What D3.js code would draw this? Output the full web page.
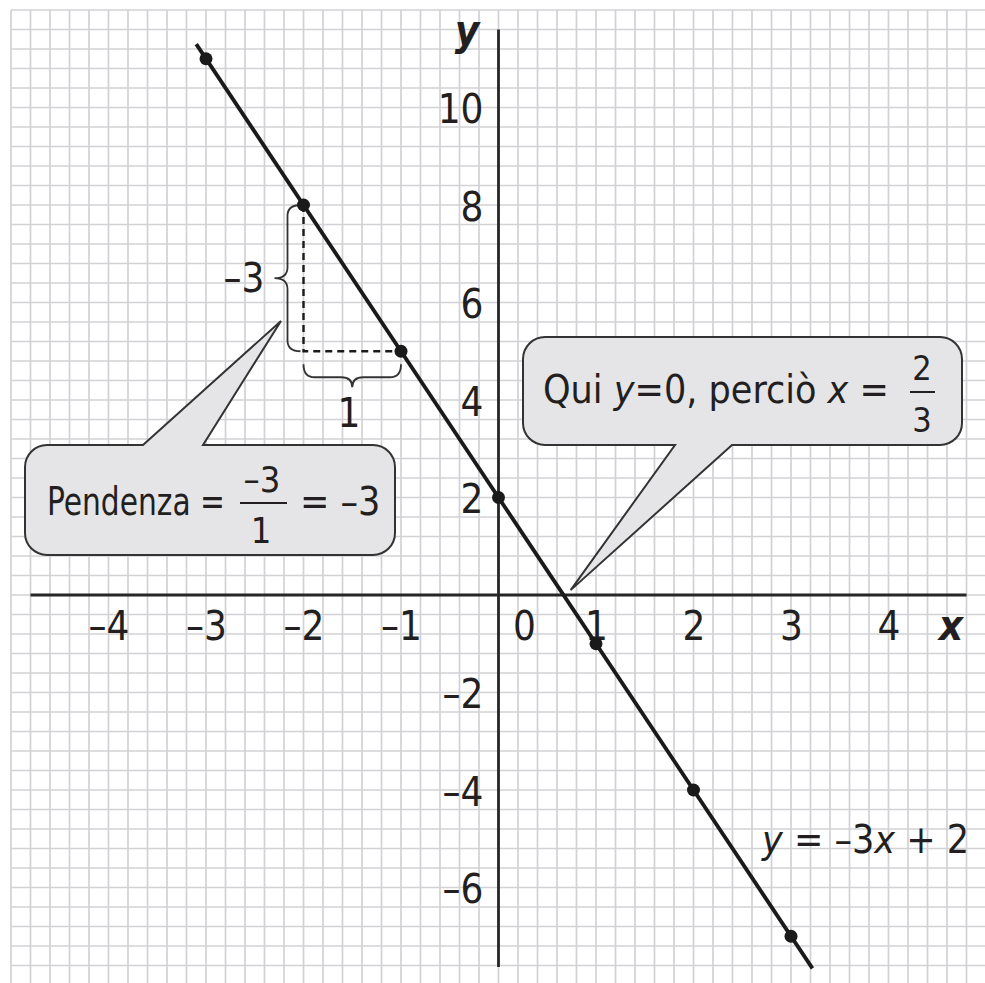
<!DOCTYPE html>
<html>
<head>
<meta charset="utf-8">
<script src="https://cdn.jsdelivr.net/npm/d3@7"></script>
<style>
  html, body { margin: 0; padding: 0; background: #fff; }
  svg { display: block; }
  text { font-family: "Liberation Sans Narrow", "DejaVu Sans Condensed", "Arial Narrow", sans-serif; fill: #231f20; }
</style>
</head>
<body>
<div id="chart"></div>
<script>
// values
const xTicks = [-4, -3, -2, -1, 1, 2, 3, 4];
const yTicks = [10, 8, 6, 4, 2, -2, -4, -6];
const pointX = [-3, -2, -1, 0, 1, 2, 3];
const pointY = [11, 8, 5, 2, -1, -4, -7];
const lineX = [-3.1, 3.22];
const lineY = [11.3, -7.66];
const slopeX = [-2, -2, -1];
const slopeY = [8, 5, 5];

const width = 985, height = 983;

const x = d3.scaleLinear().domain([-5, 5]).range([11, 986]);
const y = d3.scaleLinear().domain([12, -8]).range([10, 985]);

const svg = d3.select("#chart").append("svg")
  .attr("width", width)
  .attr("height", height);

// graph paper
const grid = svg.append("g").attr("stroke", "#d2d2d6").attr("stroke-width", 1.7);
grid.selectAll("line.v")
  .data(d3.range(-25, 26).map(i => i * 0.2))
  .enter().append("line")
  .attr("x1", d => x(d)).attr("x2", d => x(d))
  .attr("y1", y(12)).attr("y2", height);
grid.selectAll("line.h")
  .data(d3.range(-20, 31).map(i => i * 0.4))
  .enter().append("line")
  .attr("y1", d => y(d)).attr("y2", d => y(d))
  .attr("x1", x(-5)).attr("x2", width);

// axes
svg.append("line")
  .attr("x1", x(-4.8)).attr("x2", x(4.8))
  .attr("y1", y(0)).attr("y2", y(0))
  .attr("stroke", "#262626").attr("stroke-width", 2.8);
svg.append("line")
  .attr("x1", x(0)).attr("x2", x(0))
  .attr("y1", y(11.6)).attr("y2", y(-7.63))
  .attr("stroke", "#262626").attr("stroke-width", 2.8);

const fmt = d => d < 0 ? "\u2013" + Math.abs(d) : String(d);

const xAxis = svg.append("g")
  .attr("transform", `translate(0,${y(0)})`)
  .call(d3.axisBottom(x).tickValues(xTicks).tickSize(0).tickFormat(fmt));
xAxis.select(".domain").remove();
xAxis.selectAll("text")
  .attr("y", 45).attr("dy", null)
  .attr("font-size", 40).attr("font-family", null).attr("fill", null);

const yAxis = svg.append("g")
  .attr("transform", `translate(${x(0)},0)`)
  .call(d3.axisLeft(y).tickValues(yTicks).tickSize(0).tickPadding(15).tickFormat(fmt));
yAxis.select(".domain").remove();
yAxis.selectAll("text")
  .attr("dy", 15)
  .attr("font-size", 40).attr("font-family", null).attr("fill", null);

svg.append("text")
  .attr("x", x(0) + 26).attr("y", y(0) + 45)
  .attr("text-anchor", "middle").attr("font-size", 40)
  .text("0");

svg.append("text")
  .attr("x", 467).attr("y", 45)
  .attr("text-anchor", "middle").attr("font-size", 42)
  .attr("font-weight", "bold").attr("font-style", "italic")
  .text("y");
svg.append("text")
  .attr("x", 951).attr("y", 640)
  .attr("text-anchor", "middle").attr("font-size", 42)
  .attr("font-weight", "bold").attr("font-style", "italic")
  .text("x");

// rise / run
svg.append("path")
  .attr("d", d3.line().x((d, i) => x(slopeX[i])).y((d, i) => y(slopeY[i]))(slopeX))
  .attr("fill", "none").attr("stroke", "#1a1a1a")
  .attr("stroke-width", 2.4).attr("stroke-dasharray", "7,5");

function braceV(xe, xs, xt, y0, y1) {
  const ym = (y0 + y1) / 2, q = 11;
  return `M${xe},${y0}Q${xs},${y0} ${xs},${y0 + q}L${xs},${ym - q}Q${xs},${ym} ${xt},${ym}` +
    `Q${xs},${ym} ${xs},${ym + q}L${xs},${y1 - q}Q${xs},${y1} ${xe},${y1}`;
}
function braceH(ye, ys, yt, x0, x1) {
  const xm = (x0 + x1) / 2, q = 11;
  return `M${x0},${ye}Q${x0},${ys} ${x0 + q},${ys}L${xm - q},${ys}Q${xm},${ys} ${xm},${yt}` +
    `Q${xm},${ys} ${xm + q},${ys}L${x1 - q},${ys}Q${x1},${ys} ${x1},${ye}`;
}
svg.append("path")
  .attr("d", braceV(x(slopeX[0]) - 3, x(slopeX[0]) - 16, x(slopeX[0]) - 29, y(slopeY[0]), y(slopeY[1])))
  .attr("fill", "none").attr("stroke", "#333").attr("stroke-width", 1.8);
svg.append("path")
  .attr("d", braceH(y(slopeY[1]) + 13, y(slopeY[1]) + 26, y(slopeY[1]) + 36, x(slopeX[1]), x(slopeX[2])))
  .attr("fill", "none").attr("stroke", "#333").attr("stroke-width", 1.8);
svg.append("text")
  .attr("x", 244).attr("y", 292).attr("text-anchor", "middle").attr("font-size", 40)
  .text("\u20133");
svg.append("text")
  .attr("x", 349).attr("y", 427).attr("text-anchor", "middle").attr("font-size", 40)
  .text("1");

// the line and its points
svg.append("line")
  .attr("x1", x(lineX[0])).attr("y1", y(lineY[0]))
  .attr("x2", x(lineX[1])).attr("y2", y(lineY[1]))
  .attr("stroke", "#1a1a1a").attr("stroke-width", 3.8);
svg.selectAll("circle.pt")
  .data(pointX)
  .enter().append("circle")
  .attr("cx", d => x(d))
  .attr("cy", (d, i) => y(pointY[i]))
  .attr("r", 6.5)
  .attr("fill", "#1a1a1a");

// callouts
function callout(b, p) {
  const { x0, y0, x1, y1, r } = b;
  let d = `M${x0 + r},${y0}`;
  if (p.side === "top") d += `L${p.a},${y0}L${p.tx},${p.ty}L${p.b},${y0}`;
  d += `L${x1 - r},${y0}A${r},${r} 0 0 1 ${x1},${y0 + r}L${x1},${y1 - r}A${r},${r} 0 0 1 ${x1 - r},${y1}`;
  if (p.side === "bottom") d += `L${p.b},${y1}L${p.tx},${p.ty}L${p.a},${y1}`;
  d += `L${x0 + r},${y1}A${r},${r} 0 0 1 ${x0},${y1 - r}L${x0},${y0 + r}A${r},${r} 0 0 1 ${x0 + r},${y0}Z`;
  return d;
}
svg.append("path")
  .attr("d", callout({ x0: 25, y0: 445, x1: 395, y1: 555, r: 22 },
    { side: "top", a: 143, b: 203, tx: 281, ty: 321 }))
  .attr("fill", "#e5e5e7").attr("stroke", "#333").attr("stroke-width", 2);
svg.append("path")
  .attr("d", callout({ x0: 523, y0: 337, x1: 962, y1: 445, r: 22 },
    { side: "bottom", a: 675, b: 732, tx: x(0.74), ty: y(0.1) }))
  .attr("fill", "#e5e5e7").attr("stroke", "#333").attr("stroke-width", 2);

// squeeze a text horizontally so it spans the given width
function fitText(sel, tx, ty, w) {
  const natural = sel.node().getComputedTextLength();
  const s = Math.min(1, w / natural);
  sel.attr("transform", `translate(${tx},${ty}) scale(${s},1)`);
  return sel;
}

// callout 1 text
fitText(svg.append("text").attr("font-size", 39).text("Pendenza ="), 47, 515, 178);
svg.append("text").attr("x", 262).attr("y", 492).attr("text-anchor", "middle").attr("font-size", 36).text("\u20133");
svg.append("line").attr("x1", 240).attr("x2", 287).attr("y1", 503).attr("y2", 503)
  .attr("stroke", "#231f20").attr("stroke-width", 2);
svg.append("text").attr("x", 261).attr("y", 543).attr("text-anchor", "middle").attr("font-size", 36).text("1");
fitText(svg.append("text").attr("font-size", 39).text("= \u20133"), 300, 515, 82);

// callout 2 text
const t2 = svg.append("text").attr("font-size", 39);
t2.append("tspan").text("Qui ");
t2.append("tspan").attr("font-style", "italic").text("y");
t2.append("tspan").text("=0, perciò ");
t2.append("tspan").attr("font-style", "italic").text("x");
t2.append("tspan").text(" =");
fitText(t2, 543, 403, 352);
svg.append("text").attr("x", 922).attr("y", 380).attr("text-anchor", "middle").attr("font-size", 34).text("2");
svg.append("line").attr("x1", 910).attr("x2", 935).attr("y1", 392).attr("y2", 392)
  .attr("stroke", "#231f20").attr("stroke-width", 2);
svg.append("text").attr("x", 922).attr("y", 432).attr("text-anchor", "middle").attr("font-size", 34).text("3");

// equation label
const t3 = svg.append("text").attr("x", 762).attr("y", 853).attr("font-size", 39);
t3.append("tspan").attr("font-style", "italic").text("y");
t3.append("tspan").text(" = \u20133");
t3.append("tspan").attr("font-style", "italic").text("x");
t3.append("tspan").text(" + 2");
</script>
</body>
</html>
